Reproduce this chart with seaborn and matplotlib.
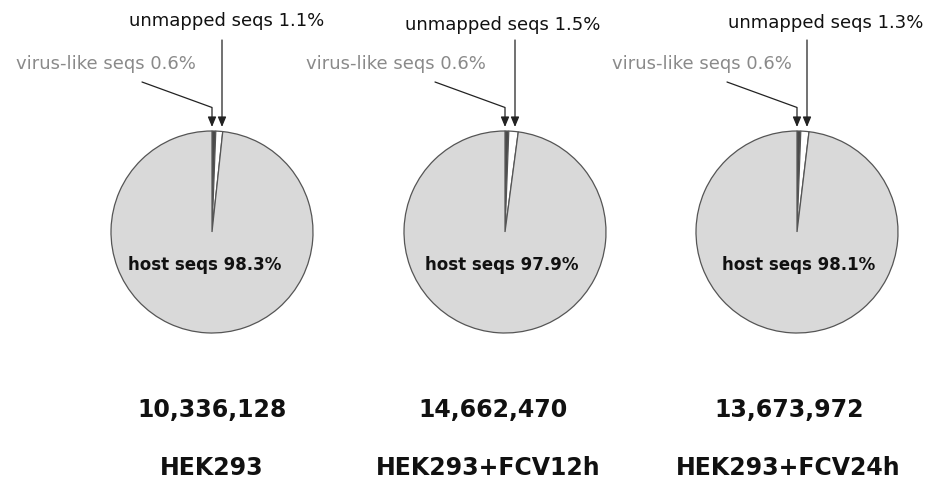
import matplotlib
matplotlib.use("Agg")
import matplotlib.pyplot as plt
import seaborn as sns

# data
samples = ["HEK293", "HEK293+FCV12h", "HEK293+FCV24h"]
read_counts = ["10,336,128", "14,662,470", "13,673,972"]
host_pct = [98.3, 97.9, 98.1]
virus_pct = [0.6, 0.6, 0.6]
unmapped_pct = [1.1, 1.5, 1.3]

sns.set_theme(style="white")
plt.rcParams["font.family"] = ["DejaVu Sans"]

# layout in pixels (y measured from top)
W, H = 935, 484
pie_x = [212, 505, 797]
pie_y = 232
radius = 101
unm_text_x = [227, 503, 826]
unm_text_y = [21, 25, 23]
virus_text_x = [106, 396, 702]
host_text_dx = [-7, -3, 2]
count_x = [212, 493, 789]
name_x = [212, 488, 788]

colors = ["#4a4a4a", "#ffffff", "#d9d9d9"]


def py(y):
    return H - y


fig = plt.figure(figsize=(9.35, 4.84), dpi=100)
ax = fig.add_axes([0, 0, 1, 1])

for i in range(3):
    cx = pie_x[i]
    ax.pie([virus_pct[i], unmapped_pct[i], host_pct[i]], colors=colors,
           startangle=90, counterclock=False, center=(cx, py(pie_y)),
           radius=radius, wedgeprops=dict(edgecolor="#555555", linewidth=0.9))

    ax.text(cx + host_text_dx[i], py(265), f"host seqs {host_pct[i]}%",
            ha="center", va="center", fontsize=12, fontweight="bold", color="#111111")

    # unmapped label + straight arrow
    ax.text(unm_text_x[i], py(unm_text_y[i]), f"unmapped seqs {unmapped_pct[i]}%",
            ha="center", va="center", fontsize=13, color="#111111")
    ax.annotate("", xy=(cx + 10, py(127)), xytext=(cx + 10, py(40)),
                arrowprops=dict(arrowstyle="-|>,head_length=0.6,head_width=0.25",
                                color="#222222", lw=0.9, shrinkA=0, shrinkB=0,
                                mutation_scale=10))

    # virus-like label + elbow arrow
    ax.text(virus_text_x[i], py(64), f"virus-like seqs {virus_pct[i]}%",
            ha="center", va="center", fontsize=13, color="#8a8a8a")
    ax.annotate("", xy=(cx, py(127)), xytext=(cx - 70, py(82)),
                arrowprops=dict(arrowstyle="-|>,head_length=0.6,head_width=0.25",
                                color="#222222", lw=0.9, shrinkA=0, shrinkB=0,
                                mutation_scale=10,
                                connectionstyle="angle,angleA=-20,angleB=90,rad=0"))

    ax.text(count_x[i], py(410), read_counts[i], ha="center", va="center",
            fontsize=17, fontweight="bold", color="#111111")
    ax.text(name_x[i], py(468), samples[i], ha="center", va="center",
            fontsize=17, fontweight="bold", color="#111111")

ax.set_xlim(0, W)
ax.set_ylim(0, H)
ax.set_aspect("equal")
ax.axis("off")

fig.savefig("out.png", dpi=100, facecolor="white")
